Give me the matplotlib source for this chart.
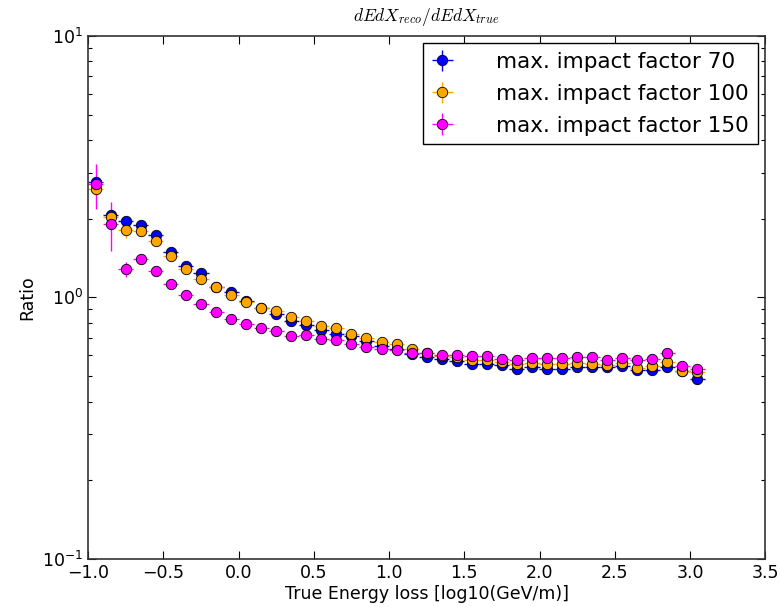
import matplotlib
matplotlib.use("Agg")
import matplotlib.pyplot as plt
import numpy as np

x = [-0.95, -0.85, -0.75, -0.65, -0.55, -0.45, -0.35, -0.25, -0.15, -0.05,
     0.05, 0.15, 0.25, 0.35, 0.45, 0.55, 0.65, 0.75, 0.85, 0.95,
     1.05, 1.15, 1.25, 1.35, 1.45, 1.55, 1.65, 1.75, 1.85, 1.95,
     2.05, 2.15, 2.25, 2.35, 2.45, 2.55, 2.65, 2.75, 2.85, 2.95, 3.05]
x_err = 0.05

ratio_70 = [2.75, 2.07, 1.96, 1.89, 1.73, 1.49, 1.32, 1.24, 1.10, 1.05,
            0.97, 0.91, 0.865, 0.816, 0.786, 0.754, 0.726, 0.711, 0.679, 0.655,
            0.636, 0.609, 0.592, 0.58, 0.574, 0.558, 0.558, 0.550, 0.534, 0.542,
            0.534, 0.534, 0.542, 0.542, 0.542, 0.545, 0.53, 0.53, 0.542, 0.523, 0.489]
err_70 = [0.10, 0.06, 0.05, 0.04, 0.03, 0.03, 0.02, 0.02, 0.02, 0.02,
          0.01, 0.01, 0.01, 0.01, 0.01, 0.01, 0.01, 0.01, 0.01, 0.01,
          0.01, 0.01, 0.01, 0.01, 0.01, 0.01, 0.01, 0.01, 0.01, 0.01,
          0.01, 0.01, 0.01, 0.01, 0.01, 0.01, 0.01, 0.01, 0.01, 0.01, 0.01]

ratio_100 = [2.59, 2.03, 1.81, 1.79, 1.65, 1.44, 1.28, 1.18, 1.10, 1.02,
             0.96, 0.91, 0.886, 0.84, 0.816, 0.777, 0.763, 0.726, 0.70, 0.675,
             0.661, 0.636, 0.615, 0.595, 0.59, 0.575, 0.575, 0.565, 0.555, 0.56,
             0.555, 0.555, 0.56, 0.558, 0.553, 0.563, 0.539, 0.545, 0.566, 0.523, 0.519]
err_100 = [0.12, 0.08, 0.13, 0.05, 0.04, 0.03, 0.02, 0.02, 0.02, 0.02,
           0.01, 0.01, 0.01, 0.01, 0.01, 0.01, 0.01, 0.01, 0.01, 0.01,
           0.01, 0.01, 0.01, 0.01, 0.01, 0.01, 0.01, 0.01, 0.01, 0.01,
           0.01, 0.01, 0.01, 0.01, 0.01, 0.01, 0.01, 0.01, 0.01, 0.01, 0.01]

ratio_150 = [2.71, 1.91, 1.28, 1.40, 1.26, 1.13, 1.02, 0.945, 0.883, 0.828,
             0.79, 0.762, 0.747, 0.711, 0.72, 0.695, 0.685, 0.665, 0.646, 0.636,
             0.627, 0.615, 0.612, 0.603, 0.603, 0.597, 0.597, 0.583, 0.578, 0.588,
             0.588, 0.588, 0.592, 0.592, 0.578, 0.588, 0.578, 0.58, 0.615, 0.545, 0.534]
err_150 = [0.53, 0.41, 0.08, 0.05, 0.04, 0.03, 0.02, 0.02, 0.02, 0.02,
           0.01, 0.01, 0.01, 0.01, 0.01, 0.01, 0.01, 0.01, 0.01, 0.01,
           0.01, 0.01, 0.01, 0.01, 0.01, 0.01, 0.01, 0.01, 0.01, 0.01,
           0.01, 0.01, 0.01, 0.01, 0.01, 0.01, 0.01, 0.01, 0.01, 0.015, 0.015]

labels = ["max. impact factor 70", "max. impact factor 100", "max. impact factor 150"]
colors = ["#0000ff", "#ffa500", "#ff00ff"]

plt.rcParams["font.family"] = ["DejaVu Sans"]
plt.rcParams["mathtext.fontset"] = "cm"

fig = plt.figure(figsize=(7.8, 6.07), dpi=100, facecolor="white")
ax = fig.add_axes([0.113, 0.079, 0.868, 0.862])

for yv, ye, c, lab in zip([ratio_70, ratio_100, ratio_150],
                          [err_70, err_100, err_150], colors, labels):
    ax.errorbar(x, yv, xerr=x_err, yerr=ye, fmt="o", color=c, ecolor=c,
                mfc=c, mec="black", mew=0.6, ms=7.5, elinewidth=1.0,
                capsize=0, label=lab)

ax.set_yscale("log")
ax.set_xlim(-1.0, 3.5)
ax.set_ylim(0.1, 10)
ax.set_xticks([-1.0, -0.5, 0.0, 0.5, 1.0, 1.5, 2.0, 2.5, 3.0, 3.5])
ax.tick_params(which="both", direction="in", top=True, right=True, labelsize=12.5)
ax.tick_params(which="major", length=6, width=0.8)
ax.tick_params(which="minor", length=3, width=0.8)
for s in ax.spines.values():
    s.set_linewidth(1.2)
    s.set_color("#333333")

ax.set_xlabel("True Energy loss [log10(GeV/m)]", fontsize=12.5, labelpad=2)
ax.set_ylabel("Ratio", fontsize=12.5, labelpad=4)
ax.set_title(r"$dEdX_{reco}/dEdX_{true}$", fontsize=12.5, pad=11)

leg = ax.legend(loc="upper right", numpoints=1, fontsize=15.5, fancybox=False,
                framealpha=1, edgecolor="black", borderpad=0.4,
                labelspacing=0.55, handletextpad=2.0, handlelength=1.0,
                borderaxespad=0.35)
leg.get_frame().set_linewidth(1.0)

fig.savefig("out.png", dpi=100, facecolor="white")
